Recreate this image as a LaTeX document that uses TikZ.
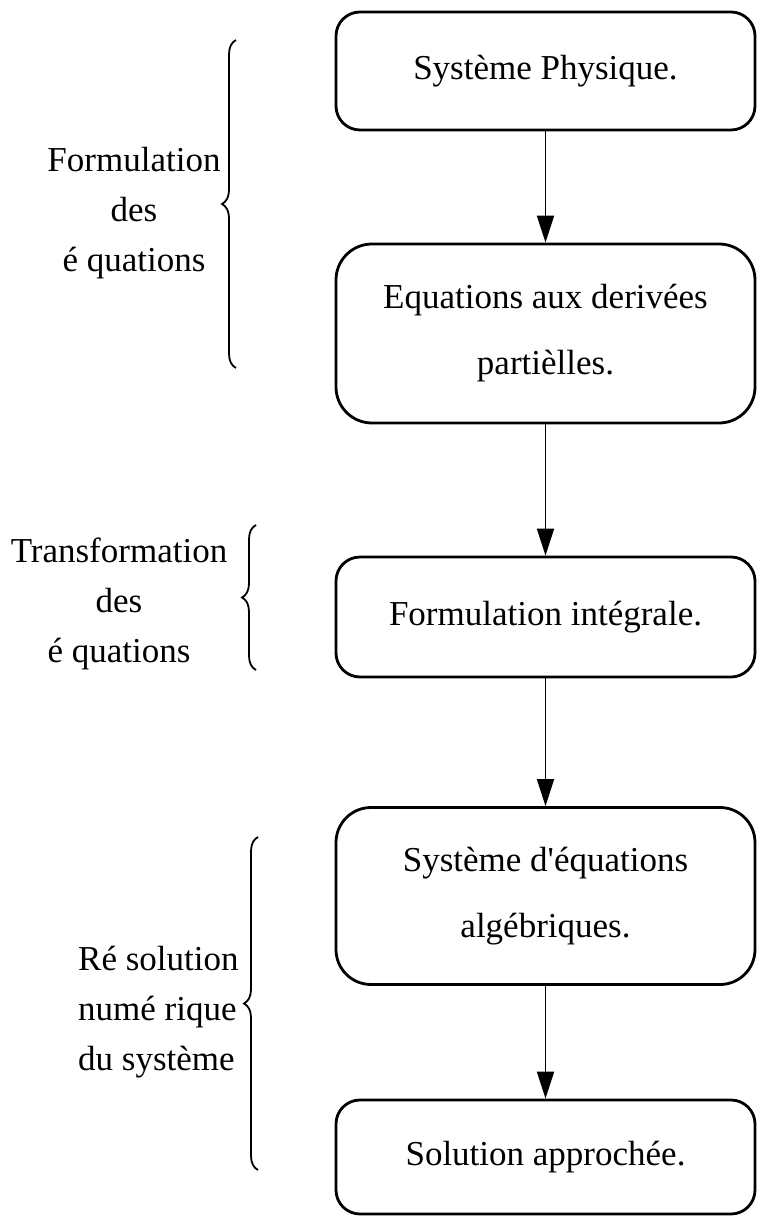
\documentclass[tikz,border=0pt]{standalone}
\usepackage{fontspec}
\setmainfont{Liberation Serif}
\usetikzlibrary{arrows.meta,decorations.pathreplacing}

\tikzset{
  etape/.style={draw, line width=2.8pt, rounded corners=#1, minimum width=419pt,
    inner sep=0pt, align=center, font=\fontsize{35}{66}\selectfont},
  etape/.default=24pt,
  fleche/.style={-{Triangle[length=27pt,width=17pt]}, line width=1.8pt},
  accolade/.style={decorate, decoration={brace, amplitude=14pt}, line width=1.8pt},
  legende/.style={align=center, inner sep=0pt, font=\fontsize{35}{50}\selectfont}
}

\begin{document}
\begin{tikzpicture}[x=1pt, y=-1pt]
  \useasboundingbox (0, 0) rectangle (757, 1217);

  % les etapes
  \node[etape, minimum height=118pt] (sysphys) at (545.5, 71) {Système Physique.};
  \node[etape=36pt, minimum height=179pt] (edp) at (545.5, 333.5) {Equations aux derivées\\partièlles.};
  \node[etape, minimum height=120pt] (formint) at (545.5, 617) {Formulation intégrale.};
  \node[etape=35pt, minimum height=177pt] (sysalg) at (545.5, 896) {Système d\textquotesingle équations\\algébriques.};
  \node[etape, minimum height=114pt] (solapp) at (545.5, 1157) {Solution approchée.};

  \draw[fleche] (sysphys) -- (edp);
  \draw[fleche] (edp) -- (formint);
  \draw[fleche] (formint) -- (sysalg);
  \draw[fleche] (sysalg) -- (solapp);

  % accolades et legendes
  \draw[accolade] (236, 368) -- (236, 40);
  \node[legende] (formeq) at (134, 213) {Formulation\\des\\é quations};

  \draw[accolade] (256, 670) -- (256, 525);
  \node[legende] (transeq) at (119, 604) {Transformation\\des\\é quations};

  \draw[accolade] (258, 1170) -- (258, 837);
  \node[legende, align=left, anchor=west] (resol) at (78, 1012) {Ré solution\\numé rique\\du système};
\end{tikzpicture}
\end{document}
